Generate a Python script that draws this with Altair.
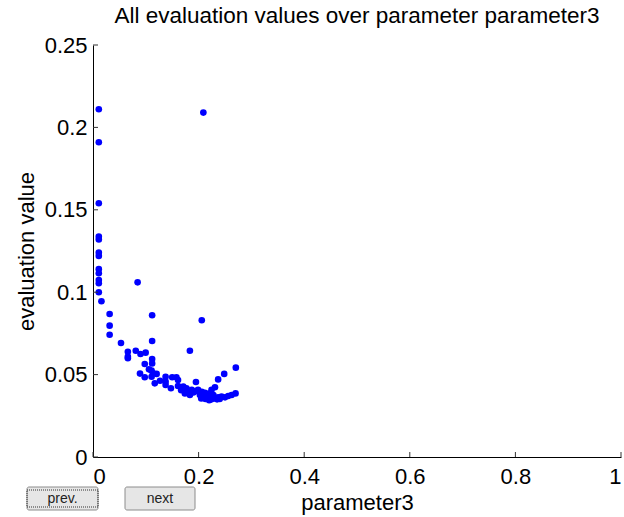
import altair as alt
import pandas as pd

# Evaluation results collected for parameter3
param3 = [
    0.011, 0.209, 0.011, 0.011, 0.011, 0.011, 0.011, 0.011, 0.011, 0.011,
    0.011, 0.011, 0.0845, 0.011, 0.016, 0.0315, 0.112, 0.206, 0.0315, 0.0315,
    0.053, 0.112, 0.1835, 0.066, 0.066, 0.066, 0.081, 0.090, 0.0997, 0.112,
    0.098, 0.112, 0.106, 0.089, 0.098, 0.111, 0.114, 0.1205, 0.111, 0.127,
    0.117, 0.1375, 0.1375, 0.1375, 0.1476, 0.150, 0.158, 0.161, 0.161, 0.171,
    0.177, 0.180, 0.187, 0.195, 0.174, 0.1835, 0.199, 0.206, 0.212, 0.2025,
    0.209, 0.215, 0.221, 0.228, 0.231, 0.2245, 0.218, 0.2245, 0.231, 0.237,
    0.2435, 0.25, 0.256, 0.2625, 0.270, 0.237, 0.2485, 0.2705, 0.195, 0.205,
    0.213, 0.220, 0.235, 0.240, 0.190, 0.167,
]
evaluation = [
    0.211, 0.209, 0.191, 0.154, 0.1337, 0.132, 0.124, 0.122, 0.114, 0.1115,
    0.1074, 0.1054, 0.106, 0.100, 0.0945, 0.0868, 0.086, 0.083, 0.0797, 0.0742,
    0.0692, 0.0704, 0.0645, 0.0639, 0.0609, 0.0599, 0.0645, 0.0625, 0.0633, 0.0595,
    0.0564, 0.0568, 0.0532, 0.0506, 0.0484, 0.0524, 0.0508, 0.0504, 0.0487, 0.0463,
    0.0447, 0.0487, 0.0457, 0.0437, 0.0417, 0.0484, 0.0484, 0.0467, 0.0431, 0.0427,
    0.0417, 0.0396, 0.0407, 0.0455, 0.0386, 0.0376, 0.0407, 0.0396, 0.039, 0.0376,
    0.0366, 0.0366, 0.0386, 0.0376, 0.0423, 0.0407, 0.0356, 0.035, 0.0356, 0.0362,
    0.0366, 0.0362, 0.037, 0.0376, 0.0386, 0.0471, 0.0504, 0.0542, 0.040, 0.0355,
    0.0352, 0.0345, 0.035, 0.0352, 0.0392, 0.0405,
]

x_ticks = [0, 0.2, 0.4, 0.6, 0.8, 1]
y_ticks = [0, 0.05, 0.1, 0.15, 0.2, 0.25]
buttons = ["prev.", "next"]

W, H = 528, 412
FONT = "Liberation Sans"
LABEL_SIZE = 22
TITLE_SIZE = 22.5
TICK = 5

points = pd.DataFrame({"parameter3": param3, "evaluation value": evaluation})

x_scale = alt.Scale(domain=[0, 1], nice=False, zero=True)
y_scale = alt.Scale(domain=[0, 0.25], nice=False, zero=True)

scatter = alt.Chart(points).mark_circle(size=44, color="#0000ff", opacity=1).encode(
    x=alt.X(
        "parameter3:Q",
        scale=x_scale,
        axis=alt.Axis(
            values=x_ticks, format=".1~f", ticks=False, grid=False,
            labelPadding=9, labelFontSize=LABEL_SIZE, labelFont=FONT, labelColor="black",
            domainColor="black", domainWidth=1,
            title="parameter3", titleFont=FONT, titleFontSize=LABEL_SIZE,
            titleFontWeight="normal", titleColor="black",
            titleBaseline="alphabetic", titleY=52,
        ),
    ),
    y=alt.Y(
        "evaluation value:Q",
        scale=y_scale,
        axis=alt.Axis(
            values=y_ticks, format=".2~f", ticks=False, grid=False,
            labelPadding=6, labelFontSize=LABEL_SIZE, labelFont=FONT, labelColor="black",
            domainColor="black", domainWidth=1,
            title="evaluation value", titleFont=FONT, titleFontSize=LABEL_SIZE,
            titleFontWeight="normal", titleColor="black",
            titleAngle=270, titleBaseline="alphabetic", titleX=-60, titleY=H / 2,
        ),
    ),
)

# inward tick marks on both axes
xt = alt.Chart(pd.DataFrame({"t": x_ticks})).mark_rule(color="#333333").encode(
    x=alt.X("t:Q", scale=x_scale),
    y=alt.value(H),
    y2=alt.value(H - TICK),
)
yt = alt.Chart(pd.DataFrame({"t": y_ticks})).mark_rule(color="#333333").encode(
    y=alt.Y("t:Q", scale=y_scale),
    x=alt.value(0),
    x2=alt.value(TICK),
)

# the two navigation buttons under the axes
btn = pd.DataFrame({
    "label": buttons,
    "x0": [-66, 32], "x1": [5, 102],
    "cx": [-30.5, 67],
    "dash": [True, False],
})
btn_frame = alt.Chart(btn).mark_rect(
    fill="#e6e6e6", stroke="#8c8c8c", strokeWidth=1, cornerRadius=2
).encode(
    x=alt.X("x0:Q", scale=None),
    x2="x1:Q",
    y=alt.value(H + 30),
    y2=alt.value(H + 53),
)
btn_focus = alt.Chart(btn[btn["dash"]]).mark_rect(
    fill="none", stroke="#333333", strokeWidth=1, strokeDash=[1, 1]
).encode(
    x=alt.X("x0:Q", scale=None, axis=None),
    x2="x1:Q",
    y=alt.value(H + 33),
    y2=alt.value(H + 50),
)
btn_text = alt.Chart(btn).mark_text(
    font=FONT, fontSize=14, color="#222222", baseline="middle", align="center"
).encode(
    x=alt.X("cx:Q", scale=None),
    y=alt.value(H + 42),
    text="label:N",
)

chart = alt.layer(scatter, xt, yt, btn_frame, btn_focus, btn_text).properties(
    width=W,
    height=H,
    title=alt.TitleParams(
        "All evaluation values over parameter parameter3",
        font=FONT, fontSize=TITLE_SIZE, fontWeight="normal", color="black",
        anchor="middle", frame="group", baseline="alphabetic", offset=-11,
    ),
    padding={"left": 93, "top": 45, "right": 3, "bottom": 60},
    autosize=alt.AutoSizeParams(type="none"),
    background="white",
).configure_view(stroke=None)

chart.save("out.html", embed_options={"renderer": "svg", "actions": False})
